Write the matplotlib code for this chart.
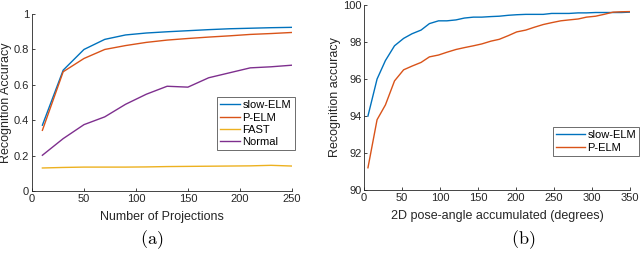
import matplotlib
matplotlib.use('Agg')
import matplotlib.pyplot as plt

plt.rcParams['font.family'] = ['Liberation Sans', 'DejaVu Sans']
plt.rcParams['mathtext.fontset'] = 'cm'

# (a) accuracy vs number of projections
proj = [10, 30, 50, 70, 90, 110, 130, 150, 170, 190, 210, 230, 250]
slow_a = [0.372, 0.683, 0.80, 0.857, 0.882, 0.893, 0.900, 0.906, 0.912, 0.917, 0.920, 0.923, 0.925]
pelm_a = [0.343, 0.674, 0.749, 0.800, 0.822, 0.840, 0.853, 0.862, 0.870, 0.877, 0.885, 0.890, 0.896]
fast_a = [0.130, 0.133, 0.135, 0.135, 0.135, 0.136, 0.138, 0.139, 0.140, 0.141, 0.142, 0.145, 0.141]
norm_a = [0.202, 0.296, 0.375, 0.419, 0.490, 0.547, 0.592, 0.587, 0.640, 0.668, 0.696, 0.702, 0.711]

# (b) accuracy vs accumulated pose angle
angle = [5, 17, 28, 40, 52, 63, 75, 86, 98, 109, 121, 132, 144, 155, 167, 178,
         190, 201, 213, 224, 236, 247, 259, 270, 282, 293, 305, 316, 328, 339, 350]
slow_b = [94.0, 96.0, 97.0, 97.8, 98.2, 98.45, 98.65, 99.0, 99.15, 99.15, 99.2, 99.3,
          99.35, 99.35, 99.38, 99.4, 99.45, 99.48, 99.5, 99.5, 99.5, 99.55, 99.55, 99.55,
          99.58, 99.58, 99.6, 99.6, 99.6, 99.6, 99.62]
pelm_b = [91.2, 93.8, 94.6, 95.9, 96.5, 96.7, 96.9, 97.2, 97.3, 97.45, 97.6, 97.7,
          97.8, 97.9, 98.05, 98.15, 98.35, 98.55, 98.65, 98.8, 98.95, 99.05, 99.15, 99.2,
          99.25, 99.35, 99.4, 99.5, 99.62, 99.64, 99.65]

blue, red, yellow, purple = '#0072BD', '#D95319', '#EDB120', '#7E2F8E'
fs = 8

fig = plt.figure(figsize=(6.4, 2.56), dpi=100)
ax1 = fig.add_axes([0.05, 0.254, 0.406, 0.691])
ax2 = fig.add_axes([0.569, 0.258, 0.415, 0.722])

ax1.plot(proj, slow_a, color=blue, lw=1, label='slow-ELM')
ax1.plot(proj, pelm_a, color=red, lw=1, label='P-ELM')
ax1.plot(proj, fast_a, color=yellow, lw=1, label='FAST')
ax1.plot(proj, norm_a, color=purple, lw=1, label='Normal')
ax1.set_xlim(0, 250)
ax1.set_ylim(0, 1)
ax1.set_xticks([0, 50, 100, 150, 200, 250])
ax1.set_yticks([0, 0.2, 0.4, 0.6, 0.8, 1])
ax1.set_yticklabels(['0', '0.2', '0.4', '0.6', '0.8', '1'])
ax1.set_xlabel('Number of Projections', fontsize=fs + 1, color='#262626', labelpad=5)
ax1.set_ylabel('Recognition Accuracy', fontsize=fs + 1, color='#262626', labelpad=1)
leg1 = ax1.legend(loc='upper left', bbox_to_anchor=(217 / 640, 1 - 97 / 256),
                  bbox_transform=fig.transFigure, fontsize=fs, handlelength=1.8,
                  handletextpad=0.2, borderpad=0.3, labelspacing=0.2,
                  fancybox=False, framealpha=1, borderaxespad=0)
leg1.get_frame().set_edgecolor('#555555')
leg1.get_frame().set_linewidth(0.6)

ax2.plot(angle, slow_b, color=blue, lw=1, label='slow-ELM')
ax2.plot(angle, pelm_b, color=red, lw=1, label='P-ELM')
ax2.set_xlim(0, 350)
ax2.set_ylim(90, 100)
ax2.set_xticks(range(0, 351, 50))
ax2.set_yticks([90, 92, 94, 96, 98, 100])
ax2.set_xlabel('2D pose-angle accumulated (degrees)', fontsize=fs + 1, color='#262626', labelpad=5)
ax2.set_ylabel('Recognition accuracy', fontsize=fs + 1, color='#262626', labelpad=1)
leg2 = ax2.legend(loc='upper left', bbox_to_anchor=(553 / 640, 1 - 127 / 256),
                  bbox_transform=fig.transFigure, fontsize=fs, handlelength=2.6,
                  handletextpad=0.2, borderpad=0.3, labelspacing=0.2,
                  fancybox=False, framealpha=1, borderaxespad=0)
leg2.get_frame().set_edgecolor('#555555')
leg2.get_frame().set_linewidth(0.6)

for ax in (ax1, ax2):
    ax.spines['top'].set_visible(False)
    ax.spines['right'].set_visible(False)
    for s in ('left', 'bottom'):
        ax.spines[s].set_color('#262626')
        ax.spines[s].set_linewidth(0.6)
    ax.tick_params(direction='in', length=2.5, width=0.6, labelsize=fs,
                   colors='#262626', pad=2)

fig.text(152 / 640, 1 - 240 / 256, r'$\mathrm{(a)}$', ha='center', va='center', fontsize=13)
fig.text(523 / 640, 1 - 240 / 256, r'$\mathrm{(b)}$', ha='center', va='center', fontsize=13)

fig.savefig('out.png', dpi=100)
